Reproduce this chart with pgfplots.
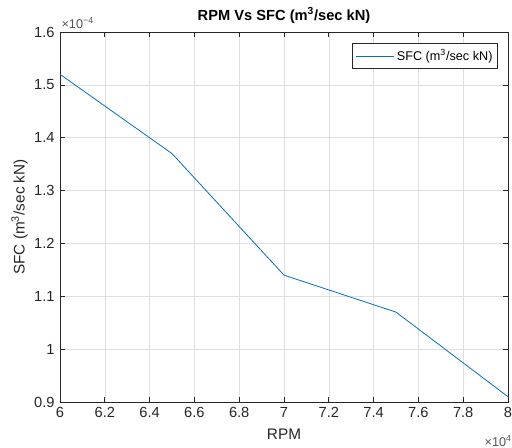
\documentclass[border=0pt]{standalone}
\usepackage{pgfplots}
\pgfplotsset{compat=1.18}
\usepackage{fontspec}
\setmainfont{Liberation Sans}
\definecolor{mblue}{rgb}{0,0.447,0.741}
\definecolor{axgray}{rgb}{0.15,0.15,0.15}
\begin{document}
\begin{tikzpicture}
\begin{axis}[
  scale only axis,
  width=336pt, height=277.5pt,
  xmin=60000, xmax=80000,
  ymin=0.9e-4, ymax=1.6e-4,
  xtick={60000,62000,64000,66000,68000,70000,72000,74000,76000,78000,80000},
  ytick={0.9e-4,1.0e-4,1.1e-4,1.2e-4,1.3e-4,1.4e-4,1.5e-4,1.6e-4},
  scaled x ticks=base 10:-4,
  scaled y ticks=base 10:4,
  xtick scale label code/.code={},
  ytick scale label code/.code={},
  /pgf/number format/assume math mode=true,
  /pgf/number format/fixed,
  /pgf/number format/precision=2,
  tick align=inside,
  major tick length=4pt,
  grid=major,
  grid style={gray!25, line width=0.4pt},
  axis line style={axgray, line width=0.5pt},
  tick style={axgray, line width=0.5pt},
  ticklabel style={font=\fontsize{11}{13}\selectfont, text=axgray},
  yticklabel style={xshift=-0.5pt},
  xticklabel style={yshift=-0.5pt},
  xlabel={RPM},
  ylabel={SFC (m\textsuperscript{3}/sec kN)},
  label style={font=\fontsize{11.5}{13}\selectfont, text=axgray},
  xlabel style={yshift=-1.5pt},
  ylabel style={yshift=-2pt},
  title={\textbf{RPM Vs SFC (m\textsuperscript{3}/sec kN)}},
  title style={font=\fontsize{11}{13}\selectfont, yshift=-3pt},
  legend style={at={(rel axis cs:0.978,0.97)}, anchor=north east,
    font=\fontsize{9.5}{11}\selectfont, draw=axgray, line width=0.5pt,
    inner xsep=2pt, inner ysep=2.5pt},
  legend image code/.code={\draw[#1] (0cm,0cm) -- (1.0cm,0cm);},
]
\addplot[mblue, line width=0.6pt] coordinates {
  (60000,1.52e-4) (65000,1.37e-4) (70000,1.14e-4) (75000,1.07e-4) (80000,0.91e-4)
};
\addlegendentry{SFC (m\textsuperscript{3}/sec kN)}
\end{axis}
\node[anchor=south west, inner sep=0pt, font=\fontsize{9.5}{11}\selectfont, text=axgray!80] at ([xshift=1pt,yshift=2pt]current axis.north west) {×10\textsuperscript{−4}};
\node[anchor=north east, inner sep=0pt, font=\fontsize{9.5}{11}\selectfont, text=axgray!80] at ([xshift=3pt,yshift=-25pt]current axis.south east) {×10\textsuperscript{4}};
\pgfresetboundingbox
\path ([xshift=-45pt,yshift=-34.5pt]current axis.south west) rectangle ([xshift=3pt,yshift=24pt]current axis.north east);
\end{tikzpicture}
\end{document}
